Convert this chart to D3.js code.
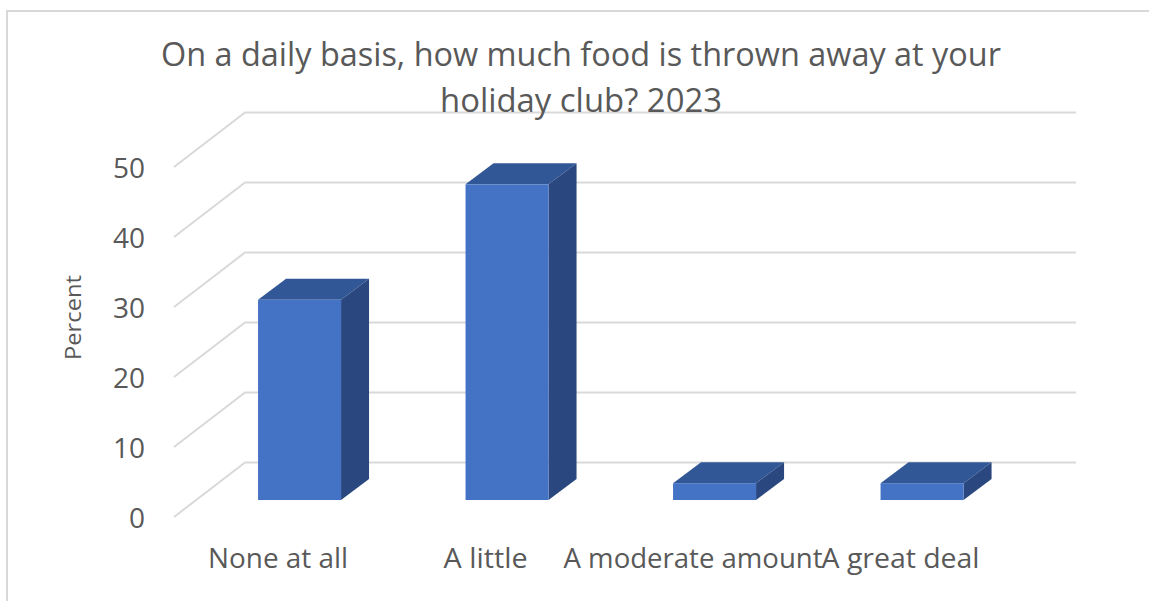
<!DOCTYPE html>
<html><head><meta charset="utf-8">
<script src="https://cdn.jsdelivr.net/npm/d3@7"></script>
<style>html,body{margin:0;padding:0;background:#fff}svg{display:block}text{font-family:"Open Sans","Noto Sans",sans-serif;fill:#595959}</style>
</head><body><svg id="c" width="1149" height="601"></svg>
<script>
const titleLines = ["On a daily basis, how much food is thrown away at your", "holiday club? 2023"];
const categories = ["None at all", "A little", "A moderate amount", "A great deal"];
const values = [28.6, 45.1, 2.4, 2.4];
const ticks = [0, 10, 20, 30, 40, 50];
const yTitle = "Percent";

// text fitting (target rendered widths, px)
const titleFit = [840, 282];
const labelFit = [140, 84, 259, 158];

const W = 1149, H = 601;
const svg = d3.select("#c");
const y = d3.scaleLinear().domain([0, 50]).range([517, 167]);
const x = d3.scaleBand().domain(categories).range([195.8, 1025.8]).paddingInner(0.6).paddingOuter(0.3);
const wallDx = 71, wallDy = -54.5, wallRight = 1076;
const barBase = 500, barDx = 28, barDy = -21;
const barY = v => barBase - (y(0) - y(v));

// frame
svg.append("path").attr("d", `M7 ${H}V11H${W}`).attr("fill","none").attr("stroke","#d9d9d9").attr("stroke-width",2);

// gridlines
const grid = svg.append("g").attr("fill","none").attr("stroke","#d9d9d9").attr("stroke-width",2);
grid.selectAll("path").data(ticks).join("path")
  .attr("d", t => `M174 ${y(t)}L${174 + wallDx} ${y(t) + wallDy}H${wallRight}`);

// 3D bars
const bars = svg.append("g").selectAll("g").data(categories.map((c,i)=>({c,v:values[i]}))).join("g");
const bw = x.bandwidth();
bars.append("path").attr("fill","#325796").attr("d", d => {
  const l = x(d.c), t = barY(d.v);
  return `M${l} ${t}L${l+barDx} ${t+barDy}H${l+bw+barDx}L${l+bw} ${t}Z`;
});
bars.append("path").attr("fill","#2a487f").attr("d", d => {
  const r = x(d.c)+bw, t = barY(d.v);
  return `M${r} ${t}L${r+barDx} ${t+barDy}V${barBase+barDy}L${r} ${barBase}Z`;
});
bars.append("rect").attr("fill","#4472c4")
  .attr("x", d => x(d.c)).attr("width", bw)
  .attr("y", d => barY(d.v)).attr("height", d => barBase - barY(d.v));

// y tick labels
svg.append("g").selectAll("text").data(ticks).join("text")
  .attr("x", 145).attr("y", t => y(t) + 11).attr("text-anchor","end")
  .attr("font-size", 28).text(t => t);

// x labels
svg.append("g").selectAll("text").data(categories).join("text")
  .attr("x", c => x(c) + bw/2 - 21.5).attr("y", 568).attr("text-anchor","middle")
  .attr("font-size", 28)
  .attr("textLength", (c,i) => labelFit[i]).attr("lengthAdjust","spacingAndGlyphs")
  .text(c => c);

// y axis title
svg.append("text").attr("transform","translate(81,317.5) rotate(-90)")
  .attr("text-anchor","middle").attr("font-size", 22)
  .attr("textLength", 85).attr("lengthAdjust","spacingAndGlyphs").text(yTitle);

// title
svg.append("g").selectAll("text").data(titleLines).join("text")
  .attr("x", 581).attr("y", (d,i) => 66 + i*46).attr("text-anchor","middle")
  .attr("font-size", 33)
  .attr("textLength", (d,i) => titleFit[i]).attr("lengthAdjust","spacingAndGlyphs")
  .text(d => d);
</script></body></html>
